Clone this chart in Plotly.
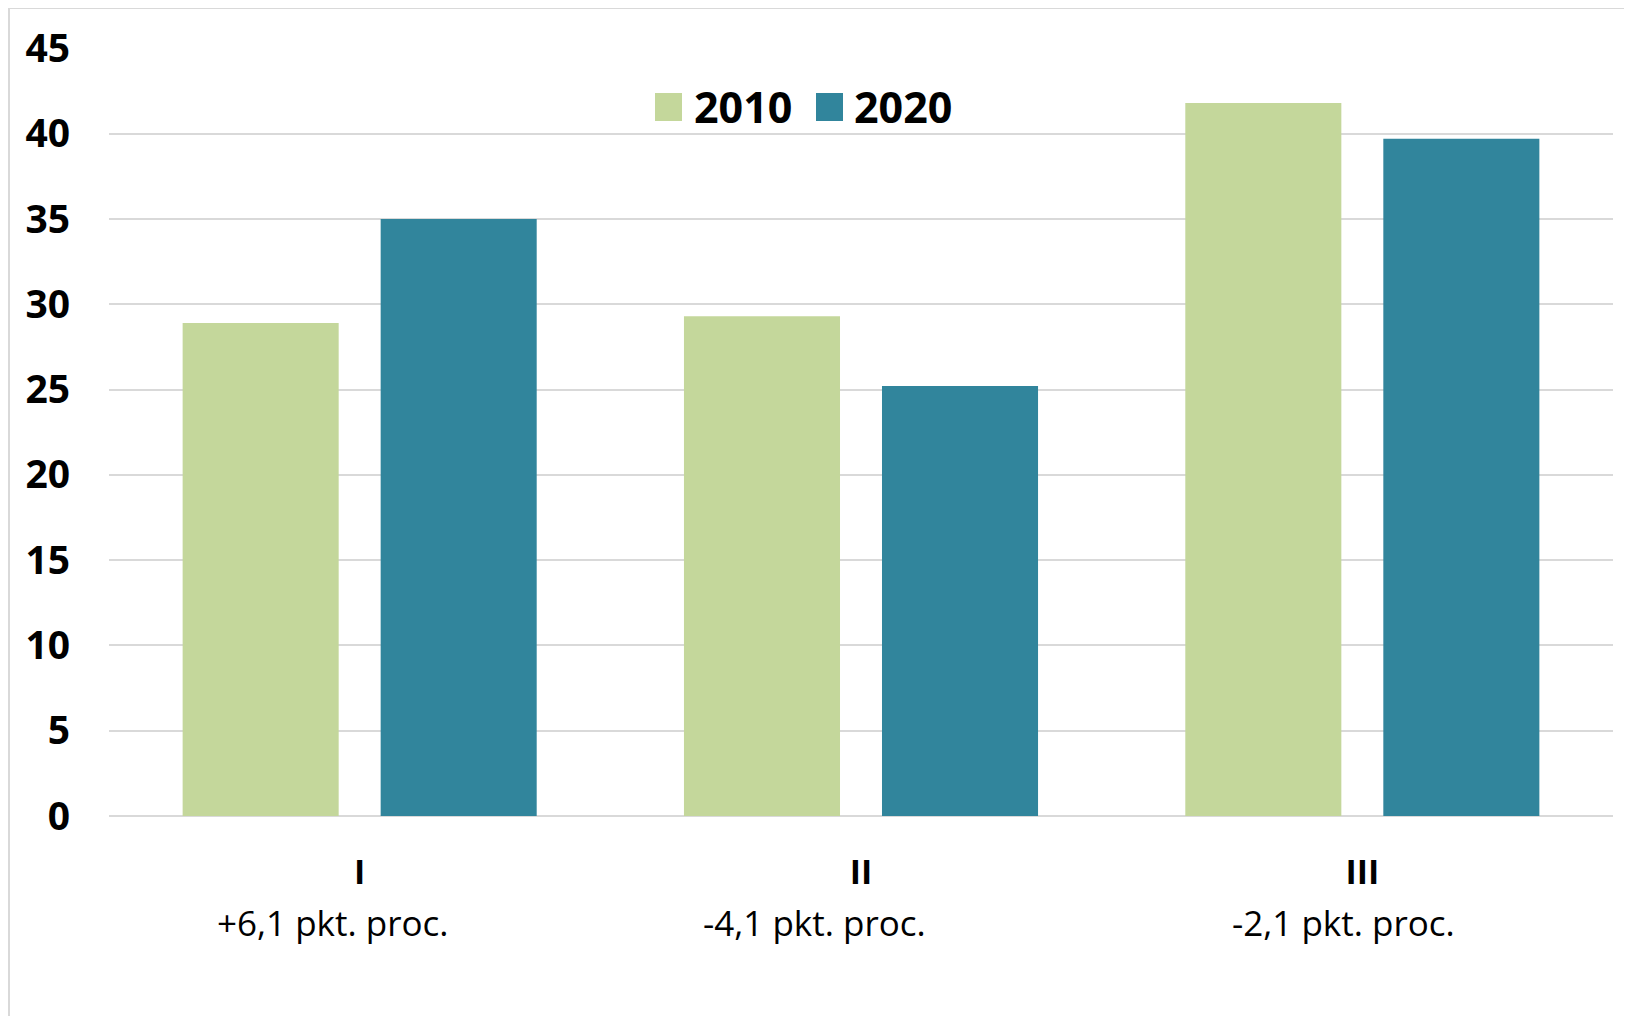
import plotly.graph_objects as go

categories = ["I", "II", "III"]
changes = ["+6,1 pkt. proc.", "-4,1 pkt. proc.", "-2,1 pkt. proc."]
change_shift = [-27, -47, -19]
values_2010 = [28.9, 29.3, 41.8]
values_2020 = [35.0, 25.2, 39.7]
series_names = ["2010", "2020"]
colors = ["#C4D79B", "#31859C"]
y_ticks = [0, 5, 10, 15, 20, 25, 30, 35, 40, 45]

FONT = "Open Sans, sans-serif"

fig = go.Figure()
for name, vals, col in zip(series_names, [values_2010, values_2020], colors):
    fig.add_trace(go.Bar(x=categories, y=vals, name=name, marker=dict(color=col, line=dict(width=0)),
                         showlegend=False))

# the page body has an 8px margin, so the figure sits at (8, 8)
OFF = 8
W, H = 1632 - OFF, 1016 - OFF
L, R, T, B = 109 - OFF, 19, 48 - OFF, 200
pw, ph = W - L - R, H - T - B

def px(x):
    return (x - OFF - L) / pw

def py(y):
    return (H - B - (y - OFF)) / ph

shapes = []
annotations = []
# custom legend
leg = [(655, 682, 692), (816, 843, 852)]
for (x0, x1, tx), name, col in zip(leg, series_names, colors):
    shapes.append(dict(type="rect", xref="paper", yref="paper", x0=px(x0), x1=px(x1),
                       y0=py(121), y1=py(93), fillcolor=col, line=dict(width=0)))
    annotations.append(dict(text="<b>%s</b>" % name, xref="paper", yref="paper", x=px(tx), y=py(106),
                            xanchor="left", yanchor="middle", showarrow=False,
                            font=dict(family=FONT, size=43, color="#000000")))
# category labels second line
for c, t, s in zip(categories, changes, change_shift):
    annotations.append(dict(text=t, xref="x", yref="paper", x=c, y=0, xanchor="center", yanchor="top",
                            xshift=s, yshift=-81, showarrow=False,
                            font=dict(family=FONT, size=35, color="#000000")))

# chart border
shapes.append(dict(type="line", xref="paper", yref="paper", x0=px(9), x1=px(1640), y0=py(8), y1=py(8),
                   line=dict(color="#D9D9D9", width=2)))
shapes.append(dict(type="line", xref="paper", yref="paper", x0=px(9), x1=px(9), y0=py(8), y1=py(1030),
                   line=dict(color="#D9D9D9", width=2)))

fig.update_layout(
    width=W, height=H,
    margin=dict(l=L, r=R, t=T, b=B),
    paper_bgcolor="white", plot_bgcolor="white",
    barmode="group", bargap=0.21, bargroupgap=0.212,
    shapes=shapes, annotations=annotations,
    font=dict(family=FONT, color="#000000"),
)
fig.update_xaxes(
    tickvals=categories, ticktext=["<b>%s</b>" % c for c in categories],
    tickfont=dict(family=FONT, size=34, color="#000000"),
    showgrid=False, showline=False, zeroline=False, ticks="", ticklabelstandoff=33,
)
fig.update_yaxes(
    range=[0, 45.02], tickvals=y_ticks, ticktext=["<b>%d</b>" % v for v in y_ticks],
    tickfont=dict(family=FONT, size=39, color="#000000"),
    showgrid=True, gridcolor="#D9D9D9", gridwidth=2, zeroline=True, zerolinecolor="#D9D9D9",
    zerolinewidth=2, showline=False, ticks="", ticklabelstandoff=38,
)

fig.write_html("out.html")
